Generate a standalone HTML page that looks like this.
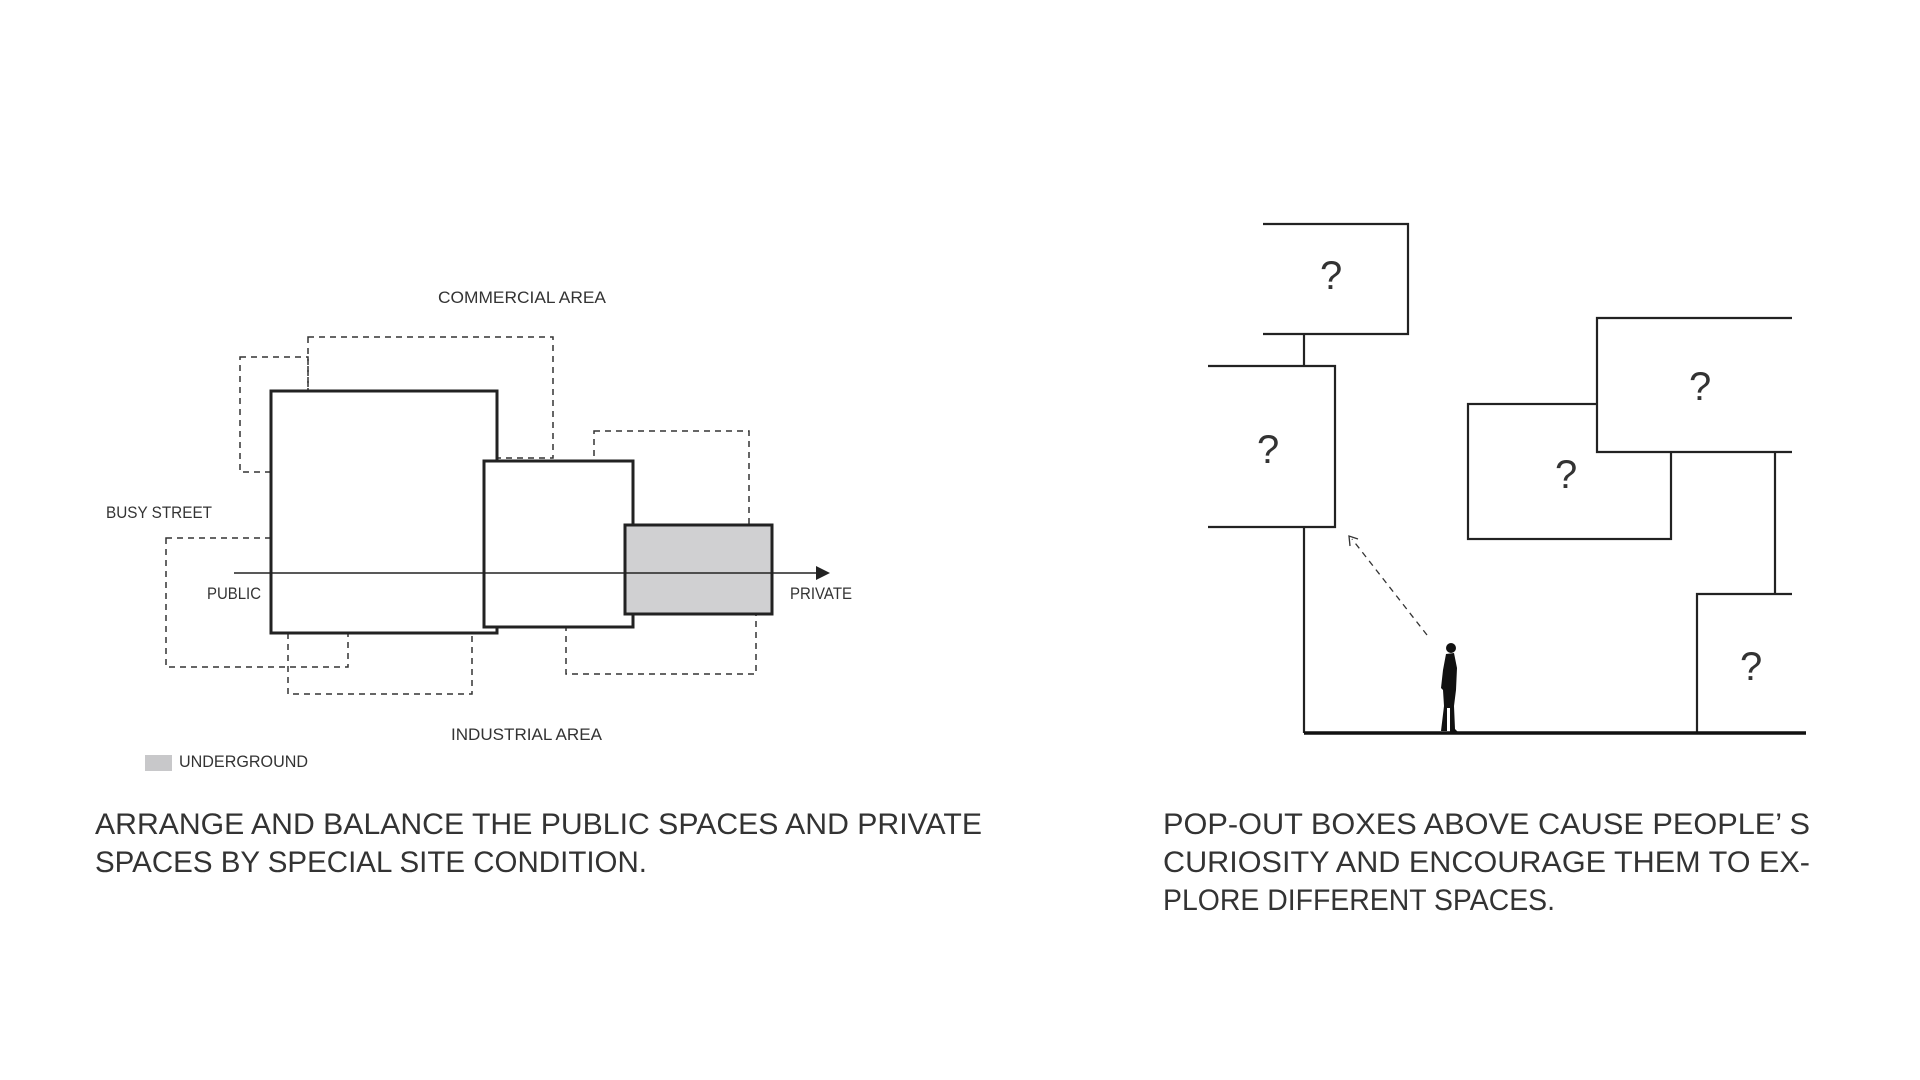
<!DOCTYPE html>
<html><head><meta charset="utf-8"><style>
html,body{margin:0;padding:0;background:#fff;width:1920px;height:1080px;overflow:hidden}
svg text{font-family:"Liberation Sans",sans-serif;fill:#333}
</style></head><body>
<svg width="1920" height="1080" viewBox="0 0 1920 1080" xmlns="http://www.w3.org/2000/svg">
<!-- LEFT DIAGRAM -->
<g fill="none" stroke="#333" stroke-width="1.5" stroke-dasharray="6,5">
<rect x="240" y="357" width="68" height="115"/>
<rect x="308" y="337" width="245" height="121"/>
<rect x="594" y="431" width="155" height="94"/>
<rect x="166" y="538" width="182" height="129"/>
<rect x="288" y="633" width="184" height="61"/>
<rect x="566" y="613" width="190" height="61"/>
</g>
<g stroke="#222" stroke-width="3">
<rect x="271" y="391" width="226" height="242" fill="#fff"/>
<rect x="484" y="461" width="149" height="166" fill="#fff"/>
<rect x="625" y="525" width="147" height="89" fill="#d0d0d2"/>
</g>
<line x1="234" y1="573" x2="818" y2="573" stroke="#222" stroke-width="1.5"/>
<polygon points="816,566 830,573 816,580" fill="#222"/>
<g font-size="17">
<text x="438" y="303" textLength="168" lengthAdjust="spacingAndGlyphs">COMMERCIAL AREA</text>
<text x="106" y="518" textLength="106" lengthAdjust="spacingAndGlyphs">BUSY STREET</text>
<text x="207" y="599" textLength="54" lengthAdjust="spacingAndGlyphs">PUBLIC</text>
<text x="790" y="599" textLength="62" lengthAdjust="spacingAndGlyphs">PRIVATE</text>
<text x="451" y="740" textLength="151" lengthAdjust="spacingAndGlyphs">INDUSTRIAL AREA</text>
<text x="179" y="767" textLength="129" lengthAdjust="spacingAndGlyphs">UNDERGROUND</text>
</g>
<rect x="145" y="755" width="27" height="16" fill="#c8c8ca"/>
<!-- RIGHT DIAGRAM -->
<g fill="none" stroke="#222" stroke-width="2.2">
<polyline points="1263,224 1408,224 1408,334 1263,334"/>
<line x1="1304" y1="334" x2="1304" y2="366"/>
<polyline points="1208,366 1335,366 1335,527 1208,527"/>
<line x1="1304" y1="527" x2="1304" y2="733"/>
<rect x="1468" y="404" width="203" height="135" fill="#fff"/>
<polyline points="1792,318 1597,318 1597,452 1792,452" fill="#fff"/>
<line x1="1775" y1="452" x2="1775" y2="594"/>
<polyline points="1792,594 1697,594 1697,733"/>
</g>
<line x1="1304" y1="733" x2="1806" y2="733" stroke="#111" stroke-width="3.5"/>
<line x1="1427" y1="635" x2="1352" y2="539" stroke="#333" stroke-width="1.3" stroke-dasharray="6,5"/>
<polyline points="1350,546 1349,536 1358,539" fill="none" stroke="#333" stroke-width="1.3"/>
<!-- person -->
<g fill="#111">
<circle cx="1451" cy="648" r="5"/>
<path d="M1446,654 L1454,653 L1457,668 L1456,690 L1454,706 L1455,729 L1458,732 L1450,732 L1450,708 L1447,708 L1447,731 L1441,731 L1444,706 L1443,690 L1441,688 L1443,670 Z"/>
</g>
<g font-size="40" fill="#222">
<text x="1320" y="289">?</text>
<text x="1257" y="463">?</text>
<text x="1555" y="488">?</text>
<text x="1689" y="400">?</text>
<text x="1740" y="680">?</text>
</g>
<!-- CAPTIONS -->
<g font-size="30" fill="#2a2a2a">
<text x="95" y="834" textLength="887" lengthAdjust="spacingAndGlyphs">ARRANGE AND BALANCE THE PUBLIC SPACES AND PRIVATE</text>
<text x="95" y="872" textLength="552" lengthAdjust="spacingAndGlyphs">SPACES BY SPECIAL SITE CONDITION.</text>
<text x="1163" y="834" textLength="647" lengthAdjust="spacingAndGlyphs">POP-OUT BOXES ABOVE CAUSE PEOPLE’  S</text>
<text x="1163" y="872" textLength="647" lengthAdjust="spacingAndGlyphs">CURIOSITY AND ENCOURAGE THEM TO EX-</text>
<text x="1163" y="910" textLength="392" lengthAdjust="spacingAndGlyphs">PLORE DIFFERENT SPACES.</text>
</g>
</svg>
</body></html>
